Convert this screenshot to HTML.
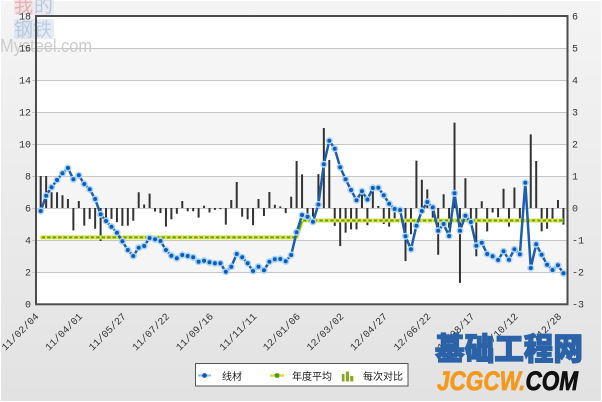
<!DOCTYPE html>
<html>
<head>
<meta charset="utf-8">
<style>
html,body{margin:0;padding:0;background:#fff;}
svg{display:block;}
</style>
</head>
<body>
<svg width="602" height="402" viewBox="0 0 602 402" xmlns="http://www.w3.org/2000/svg">
<defs>
<linearGradient id="bg" x1="0" y1="0" x2="0" y2="1">
<stop offset="0" stop-color="#f4f4f4"/>
<stop offset="1" stop-color="#e2e2e2"/>
</linearGradient>
<marker id="bd" markerWidth="10" markerHeight="10" refX="5" refY="5" markerUnits="userSpaceOnUse">
<circle cx="5" cy="5" r="2.8" fill="#0d5cb6" stroke="#a9d4f7" stroke-width="1.6"/>
</marker>
</defs>

<rect x="1" y="1" width="600" height="400" fill="url(#bg)"/>

<!-- plot background -->
<rect x="36" y="16" width="531" height="288" fill="#ffffff"/>
<rect x="36" y="48" width="531" height="32" fill="#f5f5f5"/>
<rect x="36" y="112" width="531" height="32" fill="#f5f5f5"/>
<rect x="36" y="176" width="531" height="32" fill="#f5f5f5"/>
<rect x="36" y="240" width="531" height="32" fill="#f5f5f5"/>

<!-- watermark top-left -->
<g opacity="0.55">
<rect x="14" y="0" width="19" height="15" fill="#f0d6d6"/>
<rect x="33" y="0" width="21" height="15" fill="#dfe5ee"/>
<rect x="14" y="19" width="40" height="20" fill="#d3deec"/>
<text x="14" y="12" font-family="'Noto Sans CJK SC',sans-serif" font-size="19" fill="#d97a7a">我</text>
<text x="34" y="12" font-family="'Noto Sans CJK SC',sans-serif" font-size="19" fill="#8fa3bd">的</text>
<text x="14" y="36" font-family="'Noto Sans CJK SC',sans-serif" font-size="19" fill="#86a6d2">钢铁</text>
</g>
<text x="0" y="52" font-family="'Liberation Sans',sans-serif" font-size="18" fill="#cccccc" textLength="92" lengthAdjust="spacingAndGlyphs">Mysteel.com</text>

<!-- gridlines -->
<g stroke="#c6c6c6" stroke-width="1">
<line x1="32" y1="48.5" x2="567" y2="48.5"/>
<line x1="32" y1="80.5" x2="567" y2="80.5"/>
<line x1="32" y1="112.5" x2="567" y2="112.5"/>
<line x1="32" y1="144.5" x2="567" y2="144.5"/>
<line x1="32" y1="176.5" x2="567" y2="176.5"/>
<line x1="32" y1="208.5" x2="567" y2="208.5"/>
<line x1="32" y1="240.5" x2="567" y2="240.5"/>
<line x1="32" y1="272.5" x2="567" y2="272.5"/>
</g>

<!-- bars -->
<path fill="none" stroke="#333333" stroke-width="2" d="M40.7 208V176M46.15 208V176M51.59 208V192.3M57.04 208V192.3M62.48 208V195.2M67.93 208V199M73.37 208V230.4M78.82 208V201M84.26 208V225.6M89.71 208V218.9M95.15 208V228.8M100.6 208V241M106.04 208V223.4M111.49 208V218.9M116.93 208V222.1M122.38 208V225.9M127.82 208V225.6M133.27 208V220.8M138.71 208V192.3M144.16 208V204.5M149.6 208V193.6M155.05 208V211.5M160.49 208V213.1M165.94 208V226.6M171.38 208V219.2M176.83 208V213.8M182.27 208V201M187.72 208V211.2M193.16 208V211.2M198.61 208V217.6M204.05 208V205.8M209.5 208V212.5M214.94 208V209.9M220.39 208V209.3M225.83 208V224.6M231.28 208V200M236.72 208V182M242.17 208V216.6M247.61 208V219.2M253.06 208V225.3M258.5 208V199M263.95 208V216M269.39 208V192M274.84 208V204.8M280.28 208V206.4M285.73 208V213.1M291.17 208V196.8M296.62 208V161M302.06 208V174.4M307.51 208V214.1M312.95 208V216.6M318.4 208V174.1M323.84 208V128M329.29 208V160M334.73 208V225.9M340.18 208V246.1M345.62 208V232.6M351.07 208V229.4M356.51 208V229.4M361.96 208V189.8M367.4 208V225.3M372.85 208V185.6M378.29 208V206M383.74 208V224M389.18 208V226.6M394.63 208V218.2M400.07 208V211.2M405.52 208V261.1M410.96 208V234.2M416.41 208V160.6M421.85 208V179.8M427.3 208V189.4M432.74 208V217.6M438.19 208V254.7M443.63 208V194.2M449.08 208V227.8M454.52 208V122.6M459.97 208V282.9M465.41 208V178.2M470.86 208V220.2M476.3 208V256.3M481.75 208V201.3M487.19 208V231.4M492.64 208V212.5M498.08 208V217.3M503.53 208V188.8M508.97 208V226.6M514.42 208V187.5M519.86 208V218.2M530.75 208V134.4M536.2 208V161M541.64 208V231.4M547.09 208V228.8M552.53 208V218.9M557.98 208V200M563.42 208V224.6"/>

<!-- yearly average -->
<polyline points="40.7,237.4 296.62,237.4 302.06,220.5 563.42,220.5" fill="none" stroke="#e2e04a" stroke-width="4"/>
<polyline points="40.7,237.4 296.62,237.4 302.06,220.5 563.42,220.5" fill="none" stroke="#5aa414" stroke-width="2"/>
<line x1="40.7" y1="237.4" x2="296.62" y2="237.4" stroke="#e8e840" stroke-width="2.4" stroke-linecap="round" stroke-dasharray="0 5.445"/>
<line x1="302.06" y1="220.5" x2="563.42" y2="220.5" stroke="#e8e840" stroke-width="2.4" stroke-linecap="round" stroke-dasharray="0 5.445"/>

<!-- main series -->
<polyline fill="none" stroke="#1c5fb0" stroke-width="2.5" stroke-linejoin="round" marker-start="url(#bd)" marker-mid="url(#bd)" marker-end="url(#bd)" points="40.7,211 46.15,195.7 51.59,187.3 57.04,180 62.48,173.3 67.93,168 73.37,179.3 78.82,175.3 84.26,184 89.71,189.3 95.15,199 100.6,214.3 106.04,221 111.49,226.7 116.93,232.7 122.38,241.3 127.82,250 133.27,256 138.71,247.7 144.16,246 149.6,238 155.05,239.3 160.49,241 165.94,250 171.38,255.7 176.83,258.3 182.27,255 187.72,256 193.16,257.3 198.61,261.7 204.05,260.7 209.5,262.3 214.94,263.3 220.39,263.3 225.83,271.7 231.28,266.7 236.72,254 242.17,257.3 247.61,263.3 253.06,271 258.5,266.7 263.95,270.3 269.39,261.7 274.84,259.3 280.28,259 285.73,261.3 291.17,255 296.62,232.3 302.06,215 307.51,216.8 312.95,221.8 318.4,204.5 323.84,164.3 329.29,140.7 334.73,148.7 340.18,167.3 345.62,179.3 351.07,190 356.51,200.3 361.96,191.2 367.4,199.5 372.85,188 378.29,187.8 383.74,195.3 389.18,203.7 394.63,209 400.07,210 405.52,236.3 410.96,249.3 416.41,225.7 421.85,211 427.3,202 432.74,207.4 438.19,230.7 443.63,224 449.08,236 454.52,193.3 459.97,230.7 465.41,215.7 470.86,222 476.3,245.7 481.75,242.7 487.19,254 492.64,256.3 498.08,260 503.53,251.3 508.97,259.7 514.42,249.3 519.86,254.3 525.31,182.7 530.75,268 536.2,244.3 541.64,254.7 547.09,264.7 552.53,270 557.98,265.3 563.42,273.3"/>

<!-- frame -->
<rect x="36" y="16" width="531.5" height="288.3" fill="none" stroke="#4d4d4d" stroke-width="2"/>

<!-- left axis labels -->
<g font-family="'Liberation Mono',monospace" font-size="10" fill="#333" text-anchor="end">
<text x="31" y="19.5">18</text>
<text x="31" y="51.5">16</text>
<text x="31" y="83.5">14</text>
<text x="31" y="115.5">12</text>
<text x="31" y="147.5">10</text>
<text x="31" y="179.5">8</text>
<text x="31" y="211.5">6</text>
<text x="31" y="243.5">4</text>
<text x="31" y="275.5">2</text>
<text x="31" y="307.5">0</text>
</g>
<!-- right axis labels -->
<g font-family="'Liberation Mono',monospace" font-size="10" fill="#333">
<text x="572" y="19.5">6</text>
<text x="572" y="51.5">5</text>
<text x="572" y="83.5">4</text>
<text x="572" y="115.5">3</text>
<text x="572" y="147.5">2</text>
<text x="572" y="179.5">1</text>
<text x="572" y="211.5">0</text>
<text x="572" y="243.5">-1</text>
<text x="572" y="275.5">-2</text>
<text x="572" y="307.5">-3</text>
</g>

<!-- x labels -->
<g font-family="'Liberation Mono',monospace" font-size="10" fill="#333" text-anchor="end">
<text transform="translate(39.3,317) rotate(-45)">11/02/04</text>
<text transform="translate(82.9,317) rotate(-45)">11/04/01</text>
<text transform="translate(126.5,317) rotate(-45)">11/05/27</text>
<text transform="translate(170,317) rotate(-45)">11/07/22</text>
<text transform="translate(213.7,317) rotate(-45)">11/09/16</text>
<text transform="translate(257.1,317) rotate(-45)">11/11/11</text>
<text transform="translate(300.7,317) rotate(-45)">12/01/06</text>
<text transform="translate(344.3,317) rotate(-45)">12/03/02</text>
<text transform="translate(387.8,317) rotate(-45)">12/04/27</text>
<text transform="translate(431.3,317) rotate(-45)">12/06/22</text>
<text transform="translate(475,317) rotate(-45)">12/08/17</text>
<text transform="translate(518.5,317) rotate(-45)">12/10/12</text>
<text transform="translate(562,317) rotate(-45)">12/12/28</text>
</g>

<!-- legend -->
<rect x="195.5" y="363.5" width="212.5" height="22.5" fill="#ffffff" stroke="#555" stroke-width="1"/>
<line x1="198" y1="375.5" x2="211" y2="375.5" stroke="#8fbbe8" stroke-width="2"/>
<circle cx="204.5" cy="375.5" r="2.4" fill="#0d5cb6"/>
<line x1="270" y1="375.5" x2="284" y2="375.5" stroke="#e0d84a" stroke-width="2.5"/>
<circle cx="277" cy="375.5" r="2.4" fill="#4a9e10"/>
<rect x="341.8" y="374" width="2.7" height="7.5" fill="#86a824"/>
<rect x="345.8" y="371.6" width="3.2" height="9.9" fill="#86a824"/>
<rect x="350.2" y="376" width="3.1" height="5.5" fill="#86a824"/>
<g font-family="'Liberation Sans','Noto Sans CJK SC',sans-serif" font-size="10" fill="#222">
<text x="222" y="380">线材</text>
<text x="292" y="380">年度平均</text>
<text x="363" y="380">每次对比</text>
</g>

<!-- watermark bottom-right -->
<text x="435" y="360" font-family="'Noto Sans CJK SC','WenQuanYi Zen Hei',sans-serif" font-size="31" font-weight="900" fill="#2b62a8" stroke="#2b62a8" stroke-width="1.2" textLength="148" lengthAdjust="spacingAndGlyphs">基础工程网</text>
<text x="437" y="390" font-family="'Liberation Sans',sans-serif" font-size="27" font-weight="bold" font-style="italic" textLength="141" lengthAdjust="spacingAndGlyphs"><tspan fill="#f39a1e" stroke="#f39a1e" stroke-width="0.8">JCGCW.</tspan><tspan fill="#111111" stroke="#111111" stroke-width="0.8">COM</tspan></text>
</svg>
</body>
</html>
